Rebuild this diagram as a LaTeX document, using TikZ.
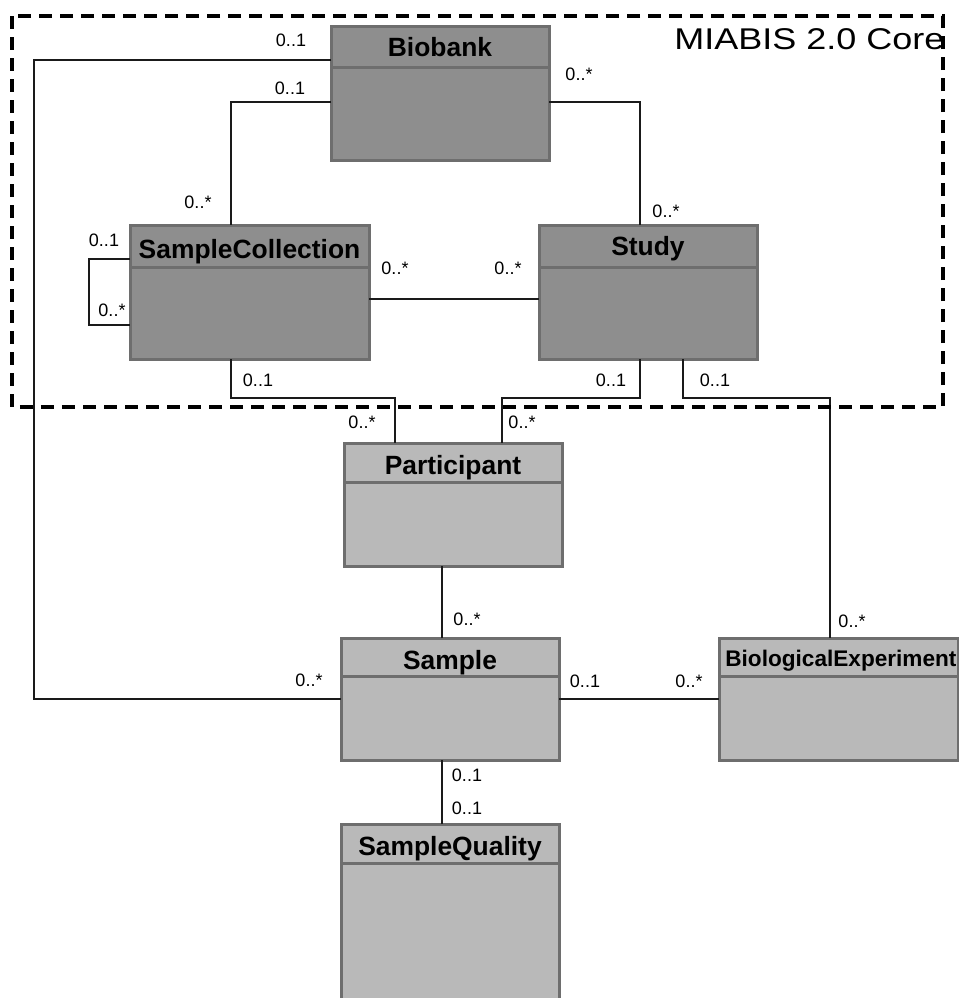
\documentclass[tikz,border=0pt]{standalone}
\usepackage{fontspec}
\setmainfont{Liberation Sans}
\definecolor{MICore}{HTML}{8E8E8E}
\definecolor{MIExt}{HTML}{B9B9B9}
\definecolor{MIEdge}{HTML}{6E6E6E}
\definecolor{MILine}{HTML}{1A1A1A}
\tikzset{
  classbox/.style={draw=MIEdge,line width=1.5pt,anchor=north west,outer sep=0pt,inner sep=0pt},
  corebox/.style={classbox,fill=MICore},
  extbox/.style={classbox,fill=MIExt},
  classtitle/.style={anchor=base,inner sep=0pt,font=\bfseries\fontsize{13.2}{15}\selectfont},
  divider/.style={MIEdge,line width=1.5pt},
  assoc/.style={MILine,line width=1pt},
  mult/.style={inner sep=0pt,font=\fontsize{9}{10}\selectfont},
  coreframe/.style={black,line width=2pt,dash pattern=on 6.5pt off 4pt},
}

\begin{document}
\begin{tikzpicture}[x=0.5pt,y=-0.5pt]
\path[use as bounding box] (0,0) rectangle (959,998);
\clip (0,0) rectangle (959,998);
% classes
\node[corebox,minimum width=109pt,minimum height=67pt] (biobank) at (331,26) {};
\node[corebox,minimum width=119.5pt,minimum height=67pt] (samplecoll) at (130,225) {};
\node[corebox,minimum width=109pt,minimum height=67pt] (study) at (539,225) {};
\node[extbox,minimum width=109pt,minimum height=61.5pt] (participant) at (344,443) {};
\node[extbox,minimum width=109pt,minimum height=61pt] (sample) at (341,638) {};
\node[extbox,minimum width=109pt,minimum height=100pt] (sampleq) at (341,824) {};
\node[extbox,minimum width=119.5pt,minimum height=61pt] (bioexp) at (719,638) {};
\draw[divider] ([yshift=-20.5pt]biobank.north west) -- ([yshift=-20.5pt]biobank.north east);
\draw[divider] ([yshift=-21pt]samplecoll.north west) -- ([yshift=-21pt]samplecoll.north east);
\draw[divider] ([yshift=-21pt]study.north west) -- ([yshift=-21pt]study.north east);
\draw[divider] ([yshift=-19.5pt]participant.north west) -- ([yshift=-19.5pt]participant.north east);
\draw[divider] ([yshift=-19pt]sample.north west) -- ([yshift=-19pt]sample.north east);
\draw[divider] ([yshift=-19.5pt]sampleq.north west) -- ([yshift=-19.5pt]sampleq.north east);
\draw[divider] ([yshift=-19pt]bioexp.north west) -- ([yshift=-19pt]bioexp.north east);
\node[classtitle] (biobank-t) at ([yshift=-15pt]biobank.north) {Biobank};
\node[classtitle] (samplecoll-t) at ([yshift=-16.5pt]samplecoll.north) {SampleCollection};
\node[classtitle] (study-t) at ([yshift=-15pt]study.north) {Study};
\node[classtitle] (participant-t) at ([yshift=-15.5pt]participant.north) {Participant};
\node[classtitle] (sample-t) at ([yshift=-15.5pt]sample.north) {Sample};
\node[classtitle] (sampleq-t) at ([yshift=-15.5pt]sampleq.north) {SampleQuality};
\node[classtitle,font=\bfseries\fontsize{11.3}{13}\selectfont] (bioexp-t) at ([xshift=1.2pt,yshift=-14pt]bioexp.north) {BiologicalExperiment};
% associations
\coordinate (farleft) at (34,60);
\draw[assoc] ([yshift=-17pt]biobank.north west) -- (farleft) |- (sample.west);
\draw[assoc] ([yshift=-38pt]biobank.north west) -| ([xshift=-9.25pt]samplecoll.north);
\draw[assoc] ([yshift=-38pt]biobank.north east) -| ([xshift=-4pt]study.north);
\draw[assoc] ([yshift=-3.5pt]samplecoll.east) -- ([yshift=-3.5pt]study.west);
\draw[assoc] ([yshift=-17pt]samplecoll.north west) -- ++(-41,0) |- ([yshift=-50pt]samplecoll.north west);
\draw[assoc] ([xshift=-9.25pt]samplecoll.south) -- ++(0,39) -| ([xshift=-29pt]participant.north);
\draw[assoc] ([xshift=-4pt]study.south) -- ++(0,39) -| ([xshift=24.5pt]participant.north);
\draw[assoc] ([xshift=17.5pt]study.south) -- ++(0,39) -| ([xshift=-4.25pt]bioexp.north);
\draw[assoc] ([xshift=-4pt]sample.north) -- ([xshift=-4pt]sample.north |- participant.south);
\draw[assoc] (sample.east) -- (bioexp.west);
\draw[assoc] ([xshift=-4pt]sample.south) -- ([xshift=-4pt]sampleq.north);
% multiplicities
\node[mult] (m-bb-far) at (291,40) {0..1};
\node[mult] (m-bb-sc) at (290,88) {0..1};
\node[mult] (m-sc-bb) at (198,202) {0..*};
\node[mult] (m-bb-st) at (579,74) {0..*};
\node[mult] (m-st-bb) at (666,211) {0..*};
\node[mult] (m-loop-a) at (104,240) {0..1};
\node[mult] (m-loop-b) at (112,310) {0..*};
\node[mult] (m-sc-st) at (395,268) {0..*};
\node[mult] (m-st-sc) at (508,268) {0..*};
\node[mult] (m-sc-p) at (258,380) {0..1};
\node[mult] (m-st-p) at (611,380) {0..1};
\node[mult] (m-st-be) at (715,380) {0..1};
\node[mult] (m-p-sc) at (362,422) {0..*};
\node[mult] (m-p-st) at (522,422) {0..*};
\node[mult] (m-s-p) at (467,619) {0..*};
\node[mult] (m-s-far) at (309,680) {0..*};
\node[mult] (m-s-be) at (585,681) {0..1};
\node[mult] (m-be-s) at (689,681) {0..*};
\node[mult] (m-be-st) at (852,621) {0..*};
\node[mult] (m-s-sq) at (467,775) {0..1};
\node[mult] (m-sq-s) at (467,808) {0..1};
% core frame
\draw[coreframe] (12,16) rectangle (943,407);
\node[anchor=base east,inner sep=0pt,xscale=1.2,font=\fontsize{15}{17}\selectfont] (core-t) at (945,49) {MIABIS 2.0 Core};
\end{tikzpicture}
\end{document}
